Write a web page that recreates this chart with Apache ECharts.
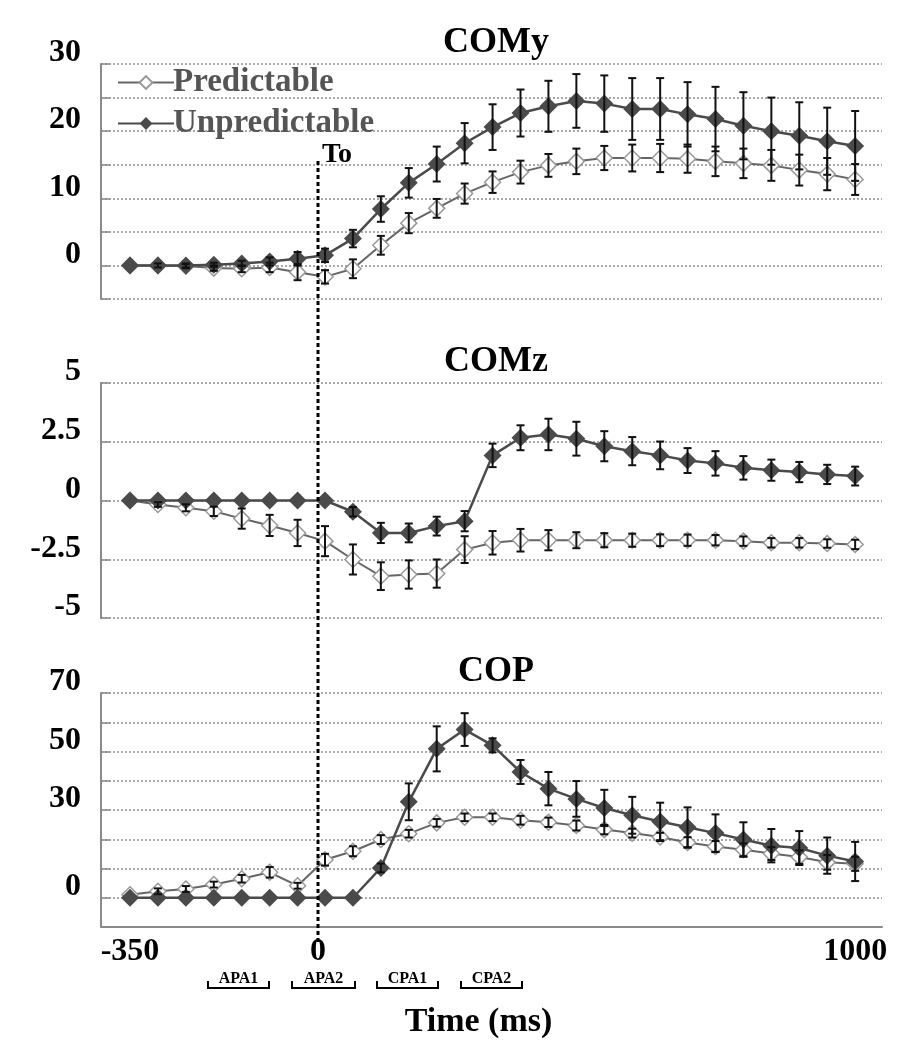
<!DOCTYPE html>
<html>
<head>
<meta charset="utf-8">
<script src="https://cdn.jsdelivr.net/npm/echarts@6/dist/echarts.min.js"></script>
<style>
  html, body { margin: 0; padding: 0; background: #fff; }
  #content { width: 908px; height: 1050px; }
</style>
</head>
<body>
<div id="content"></div>
<script>
// time points (ms)
const times = [-350, -298, -246, -194, -142, -90, -38, 13, 65, 117, 169, 221, 273, 325,
  377, 429, 481, 533, 585, 637, 688, 740, 792, 844, 896, 948, 1000]

// COMy
const comyPred = [0, 0, -0.1, -0.4, -0.5, -0.3, -1.0, -1.7, -0.5, 3.0, 6.3, 8.5, 10.7, 12.4,
  13.9, 14.9, 15.5, 16.0, 16.0, 16.0, 15.9, 15.5, 15.2, 14.9, 14.2, 13.6, 12.8]
const comyPredErr = [0.2, 0.3, 0.3, 0.4, 0.5, 0.7, 1.2, 1.0, 1.4, 1.4, 1.5, 1.4, 1.5, 1.6,
  1.7, 1.7, 1.9, 1.8, 2.0, 2.1, 2.1, 2.2, 2.2, 2.3, 2.3, 2.4, 2.3]
const comyUnpred = [0, 0, 0, 0.1, 0.3, 0.6, 1.0, 1.5, 4.0, 8.4, 12.3, 15.1, 18.2, 20.6,
  22.7, 23.7, 24.5, 24.1, 23.3, 23.3, 22.5, 21.8, 20.8, 20.0, 19.3, 18.5, 17.8]
const comyUnpredErr = [0.2, 0.2, 0.3, 0.3, 0.4, 0.6, 1.0, 1.0, 1.3, 1.9, 2.2, 2.6, 3.0, 3.4,
  3.5, 3.8, 4.0, 4.2, 4.6, 4.6, 4.8, 4.8, 5.0, 5.0, 5.0, 5.0, 5.2]

// COMz
const comzPred = [0, -0.17, -0.31, -0.46, -0.77, -1.06, -1.38, -1.73, -2.51, -3.22, -3.15, -3.11,
  -2.09, -1.80, -1.69, -1.69, -1.69, -1.69, -1.69, -1.69, -1.69, -1.69, -1.73, -1.80, -1.80, -1.83, -1.87]
const comzPredErr = [0.05, 0.1, 0.15, 0.2, 0.43, 0.45, 0.56, 0.64, 0.64, 0.59, 0.6, 0.6,
  0.57, 0.5, 0.48, 0.43, 0.34, 0.3, 0.28, 0.25, 0.24, 0.22, 0.2, 0.2, 0.2, 0.18, 0.2]
const comzUnpred = [0, 0, 0, 0, 0, 0, 0, 0, -0.48, -1.38, -1.38, -1.09, -0.88, 1.92,
  2.67, 2.81, 2.63, 2.31, 2.10, 1.92, 1.70, 1.58, 1.39, 1.29, 1.21, 1.11, 1.04]
const comzUnpredErr = [0.05, 0.05, 0.05, 0.05, 0.05, 0.05, 0.05, 0.05, 0.2, 0.43, 0.4, 0.4, 0.43, 0.5,
  0.53, 0.67, 0.72, 0.64, 0.6, 0.59, 0.53, 0.52, 0.5, 0.45, 0.43, 0.41, 0.4]

// COP
const copPred = [1.0, 2.2, 3.0, 4.5, 6.5, 8.7, 4.1, 13.0, 15.9, 19.9, 21.9, 25.6, 27.5, 27.5,
  26.5, 25.8, 24.7, 23.3, 22.1, 20.8, 18.9, 17.5, 16.4, 15.1, 13.9, 12.1, 11.6]
const copPredErr = [0.5, 1.0, 1.0, 1.0, 1.3, 1.8, 1.0, 2.0, 1.7, 1.5, 1.3, 1.3, 1.3, 1.3,
  1.5, 1.6, 1.7, 1.6, 1.5, 1.4, 1.8, 1.9, 2.2, 2.2, 2.3, 2.5, 2.4]
const copUnpred = [0, 0, 0, 0, 0, 0, 0, 0, 0, 10.2, 32.8, 50.9, 57.5, 52.1,
  43.0, 37.3, 33.8, 30.7, 28.2, 26.1, 24.1, 22.1, 19.9, 17.8, 17.0, 14.4, 12.4]
const copUnpredErr = [0, 0, 0, 0, 0, 0, 0, 0, 0, 1.5, 6.3, 7.7, 5.6, 2.4,
  4.1, 5.7, 6.1, 6.2, 6.3, 6.4, 6.8, 6.4, 5.9, 5.7, 5.8, 6.2, 6.7]

// y axis tick labels
const comyTicks = [0, 10, 20, 30]
const comzTicks = [-5, -2.5, 0, 2.5, 5]
const copTicks = [0, 30, 50, 70]
const timeTicks = [-350, 0, 1000]

const serif = '"Liberation Serif", "Times New Roman", serif'

function pairs(vals) {
  return times.map((t, i) => [t, vals[i]])
}
function errData(vals, errs) {
  return times.map((t, i) => [t, vals[i] - errs[i], vals[i] + errs[i]])
}

// error bar with caps
function renderErr(params, api) {
  const x = api.value(0)
  const top = api.coord([x, api.value(2)])
  const bot = api.coord([x, api.value(1)])
  if (Math.abs(top[1] - bot[1]) < 3) return null
  const w = 4
  const st = {stroke: '#111', lineWidth: 2}
  return {
    type: 'group',
    children: [
      {type: 'line', shape: {x1: top[0], y1: top[1], x2: bot[0], y2: bot[1]}, style: st},
      {type: 'line', shape: {x1: top[0] - w, y1: top[1], x2: top[0] + w, y2: top[1]}, style: st},
      {type: 'line', shape: {x1: bot[0] - w, y1: bot[1], x2: bot[0] + w, y2: bot[1]}, style: st}
    ]
  }
}

function predSeries(idx, vals) {
  return {
    name: 'Predictable', type: 'line', xAxisIndex: idx, yAxisIndex: idx,
    data: pairs(vals), symbol: 'diamond', symbolSize: 16, z: 2,
    lineStyle: {color: '#666', width: 2},
    itemStyle: {color: '#fff', borderColor: '#999', borderWidth: 1.5}
  }
}
function unpredSeries(idx, vals) {
  return {
    name: 'Unpredictable', type: 'line', xAxisIndex: idx, yAxisIndex: idx,
    data: pairs(vals), symbol: 'diamond', symbolSize: 18, z: 3,
    lineStyle: {color: '#4a4a4a', width: 2.5},
    itemStyle: {color: '#4a4a4a'}
  }
}
function errSeries(idx, vals, errs) {
  return {
    name: 'err' + idx, type: 'custom', xAxisIndex: idx, yAxisIndex: idx, z: 4,
    renderItem: renderErr, encode: {x: 0, y: [1, 2]},
    data: errData(vals, errs)
  }
}

function xAxisOf(idx, showLabels) {
  return {
    type: 'value', gridIndex: idx, min: -404, max: 1050,
    splitLine: {show: false},
    axisTick: {show: false},
    axisLine: {show: showLabels, onZero: false, lineStyle: {color: '#8a8a8a', width: 2}},
    axisLabel: showLabels
      ? {customValues: timeTicks, formatter: v => String(v), color: '#000', fontFamily: serif,
         fontWeight: 'bold', fontSize: 32, margin: 9}
      : {show: false},
    name: showLabels ? 'Time (ms)' : '',
    nameLocation: 'middle', nameGap: 78,
    nameTextStyle: {color: '#000', fontFamily: serif, fontWeight: 'bold', fontSize: 34, padding: [0, 26, 0, 0]}
  }
}
function yAxisOf(idx, min, max, interval, ticks) {
  return {
    type: 'value', gridIndex: idx, min: min, max: max, interval: interval,
    axisLine: {show: true, onZero: false, lineStyle: {color: '#8a8a8a', width: 2}},
    axisTick: {show: true, inside: true, length: 9, lineStyle: {color: '#8a8a8a', width: 1.5}},
    splitLine: {show: true, lineStyle: {color: '#8c8c8c', type: [2, 2], width: 1.5}},
    axisLabel: {
      customValues: ticks, color: '#000', fontFamily: serif, fontWeight: 'bold', fontSize: 32,
      margin: 20, verticalAlign: 'bottom', lineHeight: 22
    }
  }
}

function titleOf(text, top) {
  return {
    text: text, left: 491, top: top, textAlign: 'center',
    textStyle: {fontFamily: serif, fontWeight: 'bold', fontSize: 36, color: '#000'}
  }
}

function bracket(label, x1, x2) {
  return {
    type: 'group',
    children: [
      {type: 'polyline', shape: {points: [[x1, 981], [x1, 988], [x2, 988], [x2, 981]]},
        style: {stroke: '#000', lineWidth: 2, fill: null}},
      {type: 'text', x: (x1 + x2) / 2, y: 979,
        style: {text: label, fill: '#000', font: 'bold 16px ' + serif, align: 'center', verticalAlign: 'middle'}}
    ]
  }
}

const chart = echarts.init(document.getElementById('content'))
chart.setOption({
  animation: false,
  backgroundColor: '#fff',
  title: [titleOf('COMy', 20), titleOf('COMz', 339), titleOf('COP', 649)],
  legend: {
    data: ['Predictable', 'Unpredictable'],
    orient: 'vertical', left: 112, top: 61, itemGap: 8,
    itemWidth: 56, itemHeight: 16,
    textStyle: {color: '#555', fontFamily: serif, fontWeight: 'bold', fontSize: 33, padding: [0, 0, 0, -6]}
  },
  grid: [
    {left: 101, right: 26, top: 64, height: 235},
    {left: 101, right: 26, top: 383, height: 235},
    {left: 101, right: 26, top: 693, height: 234},
    {left: 101, right: 26, top: 158, bottom: 108}
  ],
  xAxis: [
    xAxisOf(0, false), xAxisOf(1, false), xAxisOf(2, true),
    {type: 'value', gridIndex: 3, min: -404, max: 1050, show: false}
  ],
  yAxis: [
    yAxisOf(0, -5, 30, 5, comyTicks),
    yAxisOf(1, -5, 5, 2.5, comzTicks),
    yAxisOf(2, -10, 70, 10, copTicks),
    {type: 'value', gridIndex: 3, min: 0, max: 1, show: false}
  ],
  graphic: [
    {type: 'text', x: 322, y: 155,
      style: {text: 'To', fill: '#000', font: 'bold 28px ' + serif, verticalAlign: 'middle'}},
    bracket('APA1', 208, 269),
    bracket('APA2', 292, 355),
    bracket('CPA1', 377, 438),
    bracket('CPA2', 461, 522)
  ],
  series: [
    predSeries(0, comyPred), unpredSeries(0, comyUnpred),
    errSeries(0, comyPred, comyPredErr), errSeries(0, comyUnpred, comyUnpredErr),
    predSeries(1, comzPred), unpredSeries(1, comzUnpred),
    errSeries(1, comzPred, comzPredErr), errSeries(1, comzUnpred, comzUnpredErr),
    predSeries(2, copPred), unpredSeries(2, copUnpred),
    errSeries(2, copPred, copPredErr), errSeries(2, copUnpred, copUnpredErr),
    {
      name: 'onset', type: 'line', xAxisIndex: 3, yAxisIndex: 3, symbol: 'none', z: 5,
      data: [[0, 0], [0, 1]],
      lineStyle: {color: '#000', width: 3, type: [4, 3]}
    }
  ]
})
</script>
</body>
</html>
